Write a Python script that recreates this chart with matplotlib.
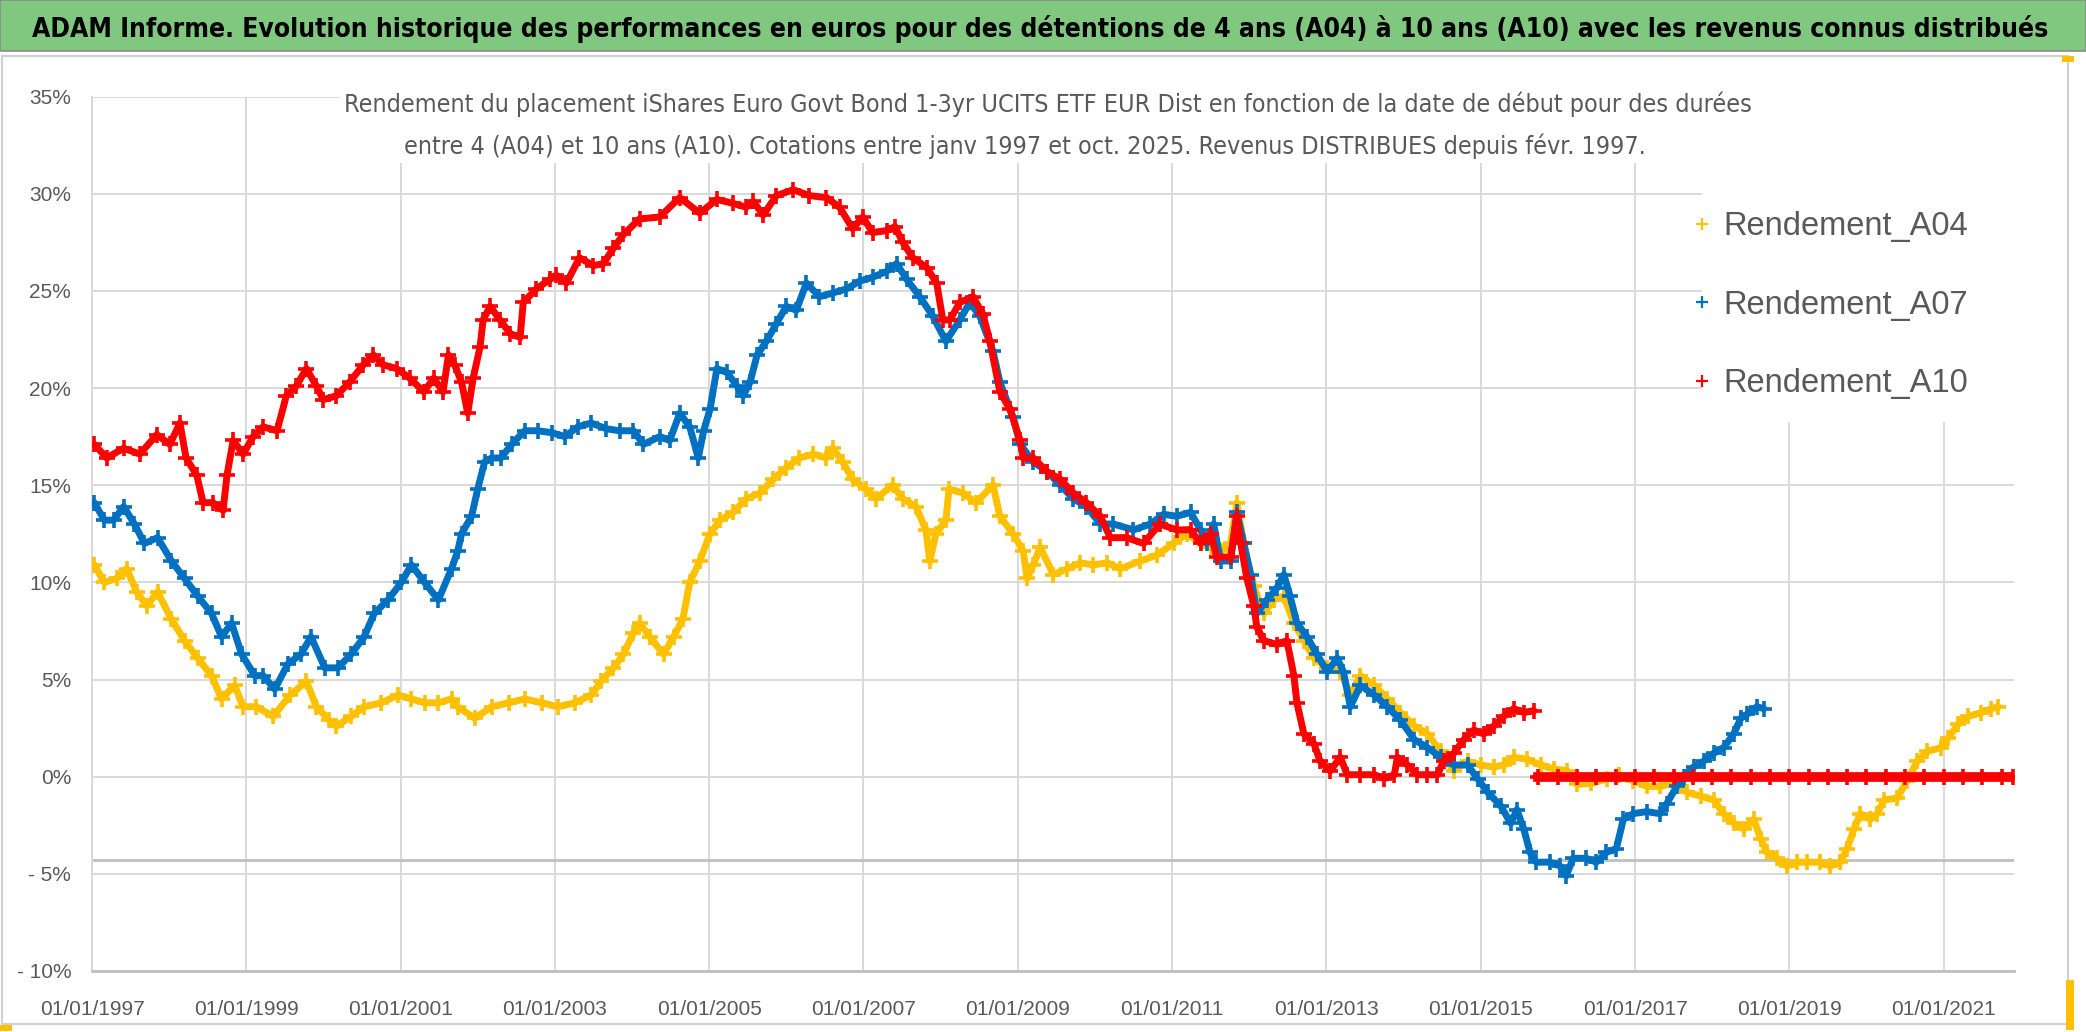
import datetime as dt
import matplotlib
matplotlib.use("Agg")
import matplotlib.pyplot as plt
import matplotlib.dates as mdates
from matplotlib.patches import Rectangle
from matplotlib.lines import Line2D
from matplotlib.ticker import FuncFormatter, MultipleLocator
from matplotlib import font_manager as fm

# ---------------- data (decimal start year, return in %) ----------------
a04_t = [1997.03, 1997.16, 1997.32, 1997.45, 1997.58, 1997.71, 1997.85, 1998.03, 1998.20, 1998.37,
         1998.55, 1998.68, 1998.85, 1998.96, 1999.13, 1999.35, 1999.57, 1999.78, 1999.91, 2000.08,
         2000.17, 2000.36, 2000.53, 2000.75, 2000.97, 2001.14, 2001.31, 2001.49, 2001.66, 2001.74,
         2001.96, 2002.18, 2002.40, 2002.61, 2002.83, 2003.04, 2003.26, 2003.47, 2003.60, 2003.76,
         2003.89, 2004.02, 2004.10, 2004.23, 2004.41, 2004.54, 2004.66, 2004.75, 2004.88, 2005.01,
         2005.14, 2005.31, 2005.48, 2005.66, 2005.83, 2006.00, 2006.17, 2006.35, 2006.52, 2006.60,
         2006.73, 2006.86, 2007.03, 2007.16, 2007.38, 2007.51, 2007.68, 2007.81, 2007.86, 2007.94,
         2008.07, 2008.11, 2008.29, 2008.46, 2008.68, 2008.77, 2008.94, 2009.07, 2009.12, 2009.20,
         2009.29, 2009.46, 2009.64, 2009.81, 2009.98, 2010.16, 2010.33, 2010.59, 2010.80, 2011.02,
         2011.19, 2011.37, 2011.50, 2011.63, 2011.76, 2011.84, 2011.93, 2012.06, 2012.19, 2012.32,
         2012.45, 2012.58, 2012.71, 2012.84, 2013.01, 2013.18, 2013.31, 2013.44, 2013.62, 2013.79,
         2013.96, 2014.14, 2014.31, 2014.48, 2014.65, 2014.83, 2015.00, 2015.17, 2015.30, 2015.43,
         2015.60, 2015.78, 2015.95, 2016.12, 2016.25, 2016.43, 2016.64, 2016.79, 2016.98, 2017.15,
         2017.32, 2017.50, 2017.67, 2017.85, 2018.02, 2018.15, 2018.28, 2018.41, 2018.54, 2018.63,
         2018.71, 2018.84, 2018.97, 2019.10, 2019.23, 2019.40, 2019.53, 2019.66, 2019.75, 2019.84,
         2019.92, 2020.05, 2020.14, 2020.23, 2020.40, 2020.53, 2020.66, 2020.79, 2020.97, 2021.06,
         2021.19, 2021.32, 2021.49, 2021.62, 2021.71]
a04_v = [10.9, 10.0, 10.2, 10.7, 9.5, 8.8, 9.5, 8.1, 7.0, 6.1,
         5.2, 4.0, 4.7, 3.6, 3.6, 3.1, 4.2, 4.9, 3.6, 2.9,
         2.6, 3.1, 3.6, 3.8, 4.2, 4.0, 3.8, 3.8, 4.0, 3.6,
         3.0, 3.6, 3.8, 4.0, 3.8, 3.6, 3.8, 4.2, 4.9, 5.6,
         6.3, 7.4, 7.9, 7.2, 6.3, 7.2, 8.1, 10.0, 11.1, 12.5,
         13.2, 13.6, 14.3, 14.6, 15.3, 15.9, 16.4, 16.6, 16.4, 16.9,
         16.2, 15.3, 14.8, 14.3, 15.0, 14.3, 13.9, 12.7, 11.1, 12.5,
         13.2, 14.8, 14.6, 14.1, 15.0, 13.4, 12.5, 11.6, 10.2, 10.9,
         11.8, 10.4, 10.7, 11.0, 10.9, 11.0, 10.7, 11.1, 11.4, 12.0,
         12.5, 12.0, 11.8, 11.6, 12.0, 14.1, 12.0, 9.8, 8.4, 9.1,
         9.3, 7.9, 7.0, 6.1, 5.6, 5.4, 4.2, 5.2, 4.7, 4.0,
         3.3, 2.6, 2.2, 1.3, 0.3, 0.8, 0.6, 0.5, 0.6, 1.0,
         0.9, 0.6, 0.4, 0.3, -0.4, -0.35, -0.1, 0.1, -0.2, -0.5,
         -0.5, -0.35, -0.8, -1.0, -1.2, -1.9, -2.4, -2.7, -2.2, -3.2,
         -3.9, -4.2, -4.6, -4.4, -4.4, -4.4, -4.6, -4.4, -3.7, -2.7,
         -1.9, -2.2, -1.9, -1.2, -1.1, -0.2, 0.8, 1.3, 1.5, 2.0,
         2.7, 3.1, 3.3, 3.5, 3.6]

a07_t = [1997.03, 1997.16, 1997.28, 1997.41, 1997.55, 1997.68, 1997.85, 1998.03, 1998.20, 1998.37,
         1998.55, 1998.68, 1998.81, 1998.94, 1999.11, 1999.22, 1999.37, 1999.54, 1999.71, 1999.84,
         2000.02, 2000.19, 2000.36, 2000.53, 2000.66, 2000.84, 2001.01, 2001.14, 2001.31, 2001.49,
         2001.66, 2001.74, 2001.79, 2001.92, 2002.00, 2002.09, 2002.18, 2002.30, 2002.44, 2002.61,
         2002.78, 2002.96, 2003.13, 2003.30, 2003.47, 2003.67, 2003.84, 2004.02, 2004.15, 2004.36,
         2004.49, 2004.62, 2004.75, 2004.86, 2004.93, 2005.01, 2005.10, 2005.23, 2005.36, 2005.44,
         2005.53, 2005.62, 2005.74, 2005.87, 2006.00, 2006.13, 2006.26, 2006.43, 2006.61, 2006.78,
         2006.95, 2007.12, 2007.30, 2007.43, 2007.56, 2007.73, 2007.90, 2008.07, 2008.25, 2008.38,
         2008.51, 2008.68, 2008.77, 2008.94, 2009.03, 2009.20, 2009.38, 2009.55, 2009.72, 2009.89,
         2010.07, 2010.24, 2010.50, 2010.72, 2010.89, 2011.06, 2011.24, 2011.37, 2011.45, 2011.54,
         2011.63, 2011.76, 2011.84, 2011.93, 2012.02, 2012.10, 2012.23, 2012.36, 2012.45, 2012.53,
         2012.62, 2012.75, 2012.88, 2013.01, 2013.14, 2013.22, 2013.31, 2013.44, 2013.62, 2013.79,
         2013.96, 2014.14, 2014.31, 2014.48, 2014.65, 2014.83, 2014.96, 2015.09, 2015.26, 2015.39,
         2015.47, 2015.56, 2015.64, 2015.72, 2015.90, 2016.03, 2016.11, 2016.20, 2016.37, 2016.50,
         2016.63, 2016.76, 2016.85, 2016.98, 2017.15, 2017.32, 2017.41, 2017.54, 2017.63, 2017.76,
         2017.89, 2018.02, 2018.15, 2018.28, 2018.37, 2018.45, 2018.58, 2018.67]
a07_v = [14.1, 13.2, 13.2, 13.9, 13.0, 12.0, 12.3, 11.1, 10.2, 9.3,
         8.4, 7.2, 7.9, 6.3, 5.2, 5.2, 4.5, 5.8, 6.3, 7.2,
         5.6, 5.6, 6.3, 7.2, 8.4, 9.1, 10.0, 10.9, 10.0, 9.1,
         10.7, 11.6, 12.5, 13.4, 14.8, 16.2, 16.4, 16.4, 17.1, 17.8,
         17.8, 17.7, 17.5, 18.0, 18.2, 17.9, 17.8, 17.8, 17.1, 17.5,
         17.3, 18.7, 18.0, 16.4, 17.8, 18.9, 21.0, 20.8, 20.1, 19.6,
         20.3, 21.7, 22.4, 23.3, 24.2, 24.0, 25.4, 24.7, 24.9, 25.1,
         25.5, 25.7, 26.0, 26.4, 25.6, 24.7, 23.7, 22.4, 23.5, 24.4,
         23.7, 21.9, 20.3, 18.5, 17.1, 16.2, 15.7, 15.0, 14.3, 13.9,
         13.0, 13.0, 12.7, 13.0, 13.5, 13.4, 13.6, 12.7, 12.0, 13.0,
         11.1, 11.1, 13.6, 12.0, 10.4, 8.4, 9.1, 9.7, 10.4, 9.3,
         7.9, 7.2, 6.3, 5.4, 6.1, 5.4, 3.6, 4.7, 4.2, 3.6,
         2.9, 1.9, 1.5, 1.0, 0.6, 0.6, -0.1, -0.8, -1.5, -2.4,
         -1.7, -2.7, -3.9, -4.4, -4.4, -4.6, -5.1, -4.2, -4.2, -4.4,
         -3.9, -3.7, -2.2, -1.9, -1.8, -1.9, -1.4, -0.5, 0.0, 0.5,
         0.8, 1.2, 1.5, 2.2, 3.0, 3.2, 3.6, 3.5]

a10_t = [1997.03, 1997.19, 1997.41, 1997.62, 1997.84, 1998.01, 1998.14, 1998.22, 1998.36, 1998.44,
         1998.57, 1998.70, 1998.75, 1998.83, 1998.96, 1999.09, 1999.22, 1999.40, 1999.52, 1999.65,
         1999.78, 1999.91, 2000.00, 2000.17, 2000.34, 2000.52, 2000.65, 2000.77, 2000.95, 2001.12,
         2001.30, 2001.43, 2001.55, 2001.62, 2001.70, 2001.79, 2001.87, 2001.94, 2002.03, 2002.07,
         2002.16, 2002.29, 2002.42, 2002.55, 2002.59, 2002.76, 2002.94, 2003.02, 2003.15, 2003.32,
         2003.50, 2003.63, 2003.76, 2003.89, 2004.10, 2004.36, 2004.62, 2004.88, 2005.10, 2005.31,
         2005.48, 2005.57, 2005.70, 2005.87, 2006.09, 2006.30, 2006.52, 2006.69, 2006.86, 2006.99,
         2007.12, 2007.30, 2007.41, 2007.51, 2007.64, 2007.82, 2007.95, 2008.03, 2008.12, 2008.25,
         2008.42, 2008.55, 2008.64, 2008.77, 2008.90, 2009.03, 2009.07, 2009.20, 2009.38, 2009.55,
         2009.72, 2009.89, 2010.07, 2010.20, 2010.41, 2010.63, 2010.84, 2011.06, 2011.24, 2011.37,
         2011.50, 2011.58, 2011.76, 2011.84, 2011.89, 2011.97, 2012.06, 2012.10, 2012.19, 2012.36,
         2012.49, 2012.58, 2012.62, 2012.71, 2012.84, 2012.92, 2013.05, 2013.18, 2013.27, 2013.44,
         2013.62, 2013.75, 2013.88, 2013.92, 2014.05, 2014.18, 2014.31, 2014.44, 2014.52, 2014.65,
         2014.78, 2014.91, 2015.04, 2015.17, 2015.30, 2015.43, 2015.56, 2015.69]
a10_v = [17.1, 16.4, 16.9, 16.6, 17.6, 17.1, 18.2, 16.4, 15.5, 14.1,
         14.1, 13.7, 15.5, 17.3, 16.6, 17.5, 18.0, 17.8, 19.6, 20.1,
         21.0, 20.1, 19.4, 19.6, 20.3, 21.2, 21.7, 21.2, 21.0, 20.5,
         19.8, 20.5, 19.8, 21.7, 21.2, 20.3, 18.7, 20.5, 22.1, 23.5,
         24.2, 23.5, 22.8, 22.6, 24.4, 25.1, 25.6, 25.8, 25.4, 26.7,
         26.3, 26.4, 27.2, 27.9, 28.7, 28.8, 29.8, 29.0, 29.7, 29.5,
         29.3, 29.6, 28.9, 29.9, 30.2, 29.9, 29.8, 29.3, 28.2, 28.8,
         28.0, 28.1, 28.3, 27.5, 26.7, 26.2, 25.4, 23.5, 23.5, 24.4,
         24.7, 23.8, 22.4, 19.8, 18.9, 17.3, 16.4, 16.4, 15.7, 15.3,
         14.6, 14.1, 13.4, 12.3, 12.3, 12.0, 13.0, 12.7, 12.7, 12.0,
         12.5, 11.3, 11.3, 13.4, 12.0, 10.2, 8.8, 7.7, 7.0, 6.8,
         7.0, 5.2, 3.8, 2.2, 1.7, 0.8, 0.3, 1.0, 0.1, 0.1,
         0.1, -0.1, 0.1, 1.0, 0.6, 0.1, 0.1, 0.1, 0.8, 1.2,
         1.9, 2.4, 2.2, 2.6, 3.1, 3.5, 3.3, 3.4]
# A10 start dates after oct. 2015: no 10-year history yet, plotted at 0 %
a10z_t = [2015.75, 2016.00, 2016.25, 2016.50, 2016.75, 2017.00, 2017.25, 2017.50, 2017.75, 2018.00,
          2018.25, 2018.50, 2018.75, 2019.00, 2019.25, 2019.50, 2019.75, 2020.00, 2020.25, 2020.50,
          2020.75, 2021.00, 2021.25, 2021.50, 2021.75, 2021.90]
a10z_v = [0.0, 0.0, 0.0, 0.0, 0.0, 0.0, 0.0, 0.0, 0.0, 0.0,
          0.0, 0.0, 0.0, 0.0, 0.0, 0.0, 0.0, 0.0, 0.0, 0.0,
          0.0, 0.0, 0.0, 0.0, 0.0, 0.0]

series_labels = ["Rendement_A04", "Rendement_A07", "Rendement_A10"]
colors = ["#FFC000", "#0070C0", "#FF0000"]
tick_years = list(range(1997, 2022, 2))

title = ("ADAM Informe. Evolution historique des performances en euros pour des détentions "
         "de 4 ans (A04) à 10 ans (A10) avec les revenus connus distribués")
sub1 = ("Rendement du placement iShares Euro Govt Bond 1-3yr UCITS ETF EUR Dist en fonction "
        "de la date de début pour des durées")
sub2 = ("entre 4 (A04) et 10 ans (A10). Cotations entre janv 1997 et oct. 2025. "
        "Revenus DISTRIBUES depuis févr. 1997.")

# ---------------- fonts: look for a condensed sans face ----------------
SANS = "Liberation Sans"


def _is_narrow(f):
    s = str(f.stretch).lower()
    n = (f.name + " " + f.fname).lower()
    return ("condensed" in s or "narrow" in s or "condensed" in n or "narrow" in n)


def _wnum(w):
    if isinstance(w, (int, float)):
        return w
    return {"bold": 700, "semibold": 600, "demibold": 600, "heavy": 800, "black": 900,
            "light": 300, "medium": 500}.get(str(w).lower(), 400)


def pick_narrow(bold):
    pref = ["liberation", "dejavu", "noto sans", "open sans", "roboto"]
    cands = [f for f in fm.fontManager.ttflist
             if _is_narrow(f) and f.style == "normal" and "mono" not in f.name.lower()
             and "serif" not in f.name.lower().replace("sans", "")
             and ((_wnum(f.weight) >= 600) == bold)
             and (bold or 350 <= _wnum(f.weight) <= 500)]
    if not cands:
        return None
    cands.sort(key=lambda f: next((i for i, p in enumerate(pref) if p in f.name.lower()), 99))
    return fm.FontProperties(fname=cands[0].fname)


FP_BOLD = pick_narrow(True) or fm.FontProperties(family=SANS, weight="bold")
FP_REG = pick_narrow(False) or fm.FontProperties(family=SANS)


def to_date(y):
    yr = int(y)
    return dt.datetime(yr, 1, 1) + dt.timedelta(days=(y - yr) * 365.25)


W, H = 2086, 1032


def fx(px):
    return px / W


def fy(py):
    return 1 - py / H


fig = plt.figure(figsize=(W / 100, H / 100), dpi=100)
fig.patch.set_facecolor("white")

# banner and chart frame
fig.add_artist(Rectangle((0, fy(51)), 1, 51 / H, transform=fig.transFigure,
                         facecolor="#80C880", edgecolor="#8a8a8a", lw=1.2, zorder=0))
fig.add_artist(Rectangle((fx(2), fy(1024)), fx(2066), (1024 - 56) / H, transform=fig.transFigure,
                         facecolor="none", edgecolor="#D0D0D0", lw=1.5, zorder=0))
fig.add_artist(Rectangle((0, fy(1031)), fx(12), 6 / H, transform=fig.transFigure,
                         facecolor="#FFC000", edgecolor="none", zorder=0))
fig.add_artist(Rectangle((fx(2066), fy(1030)), fx(8), 50 / H, transform=fig.transFigure,
                         facecolor="#FFC000", edgecolor="none", zorder=0))
fig.add_artist(Rectangle((fx(2062), fy(62)), fx(12), 6 / H, transform=fig.transFigure,
                         facecolor="#FFC000", edgecolor="none", zorder=0))

ax = fig.add_axes([fx(92), fy(971), fx(2014 - 92), (971 - 96.5) / H])
ax.set_facecolor("white")

for t, v, c in [(a04_t, a04_v, colors[0]), (a07_t, a07_v, colors[1]), (a10_t, a10_v, colors[2])]:
    ax.plot([to_date(x) for x in t], v, color=c, lw=5, marker="+", ms=12, mew=2.6,
            zorder=3, solid_joinstyle="round", solid_capstyle="round")
ax.plot([to_date(x) for x in a10z_t], a10z_v, color=colors[2], lw=7, marker="+", ms=12,
        mew=2.6, zorder=3.1)

ax.set_ylim(-10, 35)
ax.set_xlim(to_date(1997.0), to_date(2021.912))
ax.yaxis.set_major_locator(MultipleLocator(5))


def pct(v, pos):
    v = int(round(v))
    return f"{v}%" if v >= 0 else f"- {abs(v)}%"


ax.yaxis.set_major_formatter(FuncFormatter(pct))
ax.set_xticks([dt.datetime(y, 1, 1) for y in tick_years])
ax.xaxis.set_major_formatter(mdates.DateFormatter("%d/%m/%Y"))
ax.tick_params(axis="both", length=0, labelsize=15, labelcolor="#595959")
ax.tick_params(axis="x", pad=21)
ax.tick_params(axis="y", pad=15)
for lbl in ax.get_xticklabels() + ax.get_yticklabels():
    lbl.set_fontfamily(SANS)

ax.grid(True, color="#D9D9D9", lw=1.4)
ax.set_axisbelow(True)
for s in ["top", "right"]:
    ax.spines[s].set_visible(False)
ax.spines["left"].set_color("#D9D9D9")
ax.spines["left"].set_linewidth(1.4)
ax.spines["bottom"].set_color("#BFBFBF")
ax.spines["bottom"].set_linewidth(2)
ax.axhline(-4.3, color="#BFBFBF", lw=2, zorder=1)

# white boxes behind title and legend (hide gridlines)
ax.add_patch(Rectangle((fx(340), fy(163)), fx(2016 - 340), (163 - 76) / H,
                       transform=fig.transFigure, facecolor="white", edgecolor="none",
                       zorder=1.5, clip_on=False))
ax.add_patch(Rectangle((fx(1702), fy(422)), fx(2016 - 1702), (422 - 160) / H,
                       transform=fig.transFigure, facecolor="white", edgecolor="none",
                       zorder=1.5, clip_on=False))

handles = [Line2D([], [], ls="none", marker="+", color=c, ms=8, mew=1.6) for c in colors]
leg = ax.legend(handles, series_labels, loc="upper left",
                bbox_to_anchor=(fx(1676), fy(195)), bbox_transform=fig.transFigure,
                frameon=False, handlelength=0.6, handletextpad=0.35, borderpad=0,
                labelspacing=1.45, prop={"family": SANS, "size": 23.5})
for txt in leg.get_texts():
    txt.set_color("#595959")
leg.set_zorder(6)

# titles, width-fitted to the reference extents
renderer = fig.canvas.get_renderer()


def fitted(x_center, y, s, target_w, fp, **kw):
    fp = fp.copy()
    fp.set_size(16)
    t = fig.text(fx(x_center), fy(y), s, ha="center", va="center", fontproperties=fp, **kw)
    w = t.get_window_extent(renderer).width
    t.set_fontsize(16 * target_w / w)
    return t


fitted(1040, 29, title, 2022, FP_BOLD, color="black")
fitted(1048, 104, sub1, 1420, FP_REG, color="#595959")
fitted(1025, 146, sub2, 1245, FP_REG, color="#595959")

fig.savefig("out.png", dpi=100, facecolor="white")
